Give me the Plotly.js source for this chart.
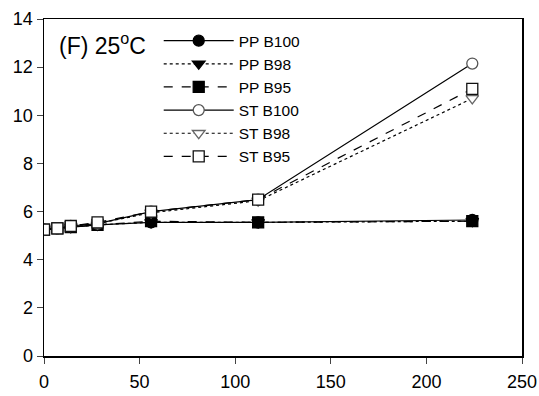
<!DOCTYPE html>
<html><head><meta charset="utf-8">
<script src="https://cdn.plot.ly/plotly-3.0.1.min.js"></script>
<style>body{margin:0;background:#fff}#chart{width:539px;height:396px}</style>
</head><body><div id="chart"></div>
<script>
const days = [0, 7, 14, 28, 56, 112, 224];
const seriesNames = ["PP B100", "PP B98", "PP B95", "ST B100", "ST B98", "ST B95"];
const ppB100 = [5.25, 5.3, 5.35, 5.45, 5.55, 5.55, 5.65];
const ppB98  = [5.25, 5.3, 5.35, 5.45, 5.55, 5.55, 5.6];
const ppB95  = [5.25, 5.3, 5.35, 5.45, 5.6, 5.55, 5.6];
const stB100 = [5.25, 5.3, 5.4, 5.5, 6.0, 6.5, 12.15];
const stB98  = [5.25, 5.3, 5.4, 5.5, 5.95, 6.45, 10.7];
const stB95  = [5.25, 5.3, 5.4, 5.55, 6.0, 6.5, 11.1];
const panelLabel = "(F) 25<sup>o</sup>C";

const values = [ppB100, ppB98, ppB95, stB100, stB98, stB95];
const symbols = ["circle", "triangle-down", "square", "circle", "triangle-down", "square"];
const dashes = ["solid", "dot", "dash", "solid", "dot", "dash"];
const outline = ["#000", "#000", "#000", "#555", "#666", "#111"];

const traces = values.map((v, i) => ({
  x: days, y: v, name: seriesNames[i], type: "scatter", mode: "lines+markers",
  line: {color: "#000", width: 1.2, dash: dashes[i]},
  marker: {symbol: symbols[i], size: 11, color: i < 3 ? "#000" : "#fff",
           line: {color: outline[i], width: 1.3}}
}));

const layout = {
  width: 539, height: 396,
  margin: {l: 44, r: 17, t: 19, b: 40},
  paper_bgcolor: "#fff", plot_bgcolor: "#fff",
  font: {family: "Liberation Sans, Arial, sans-serif", color: "#000", size: 17},
  showlegend: true,
  legend: {x: 0.24, y: 0.985, xanchor: "left", yanchor: "top", bgcolor: "rgba(0,0,0,0)",
           font: {size: 15.5}, itemwidth: 70, tracegroupgap: 0},
  xaxis: {range: [0, 250], tickvals: [0, 50, 100, 150, 200, 250], ticks: "outside", ticklen: 6,
          ticklabelstandoff: 3,
          showline: true, linecolor: "#000", linewidth: 1.5, mirror: true, showgrid: false, zeroline: false,
          tickfont: {size: 18}},
  yaxis: {range: [0, 14], tickvals: [0, 2, 4, 6, 8, 10, 12, 14], ticks: "outside", ticklen: 6,
          showline: true, linecolor: "#000", linewidth: 1.5, mirror: true, showgrid: false, zeroline: false,
          tickfont: {size: 18}},
  annotations: [{text: panelLabel, xref: "paper", yref: "paper", x: 0.028, y: 0.975, xanchor: "left", yanchor: "top",
                 showarrow: false, font: {size: 23}}]
};
Plotly.newPlot("chart", traces, layout, {staticPlot: true});
</script></body></html>
